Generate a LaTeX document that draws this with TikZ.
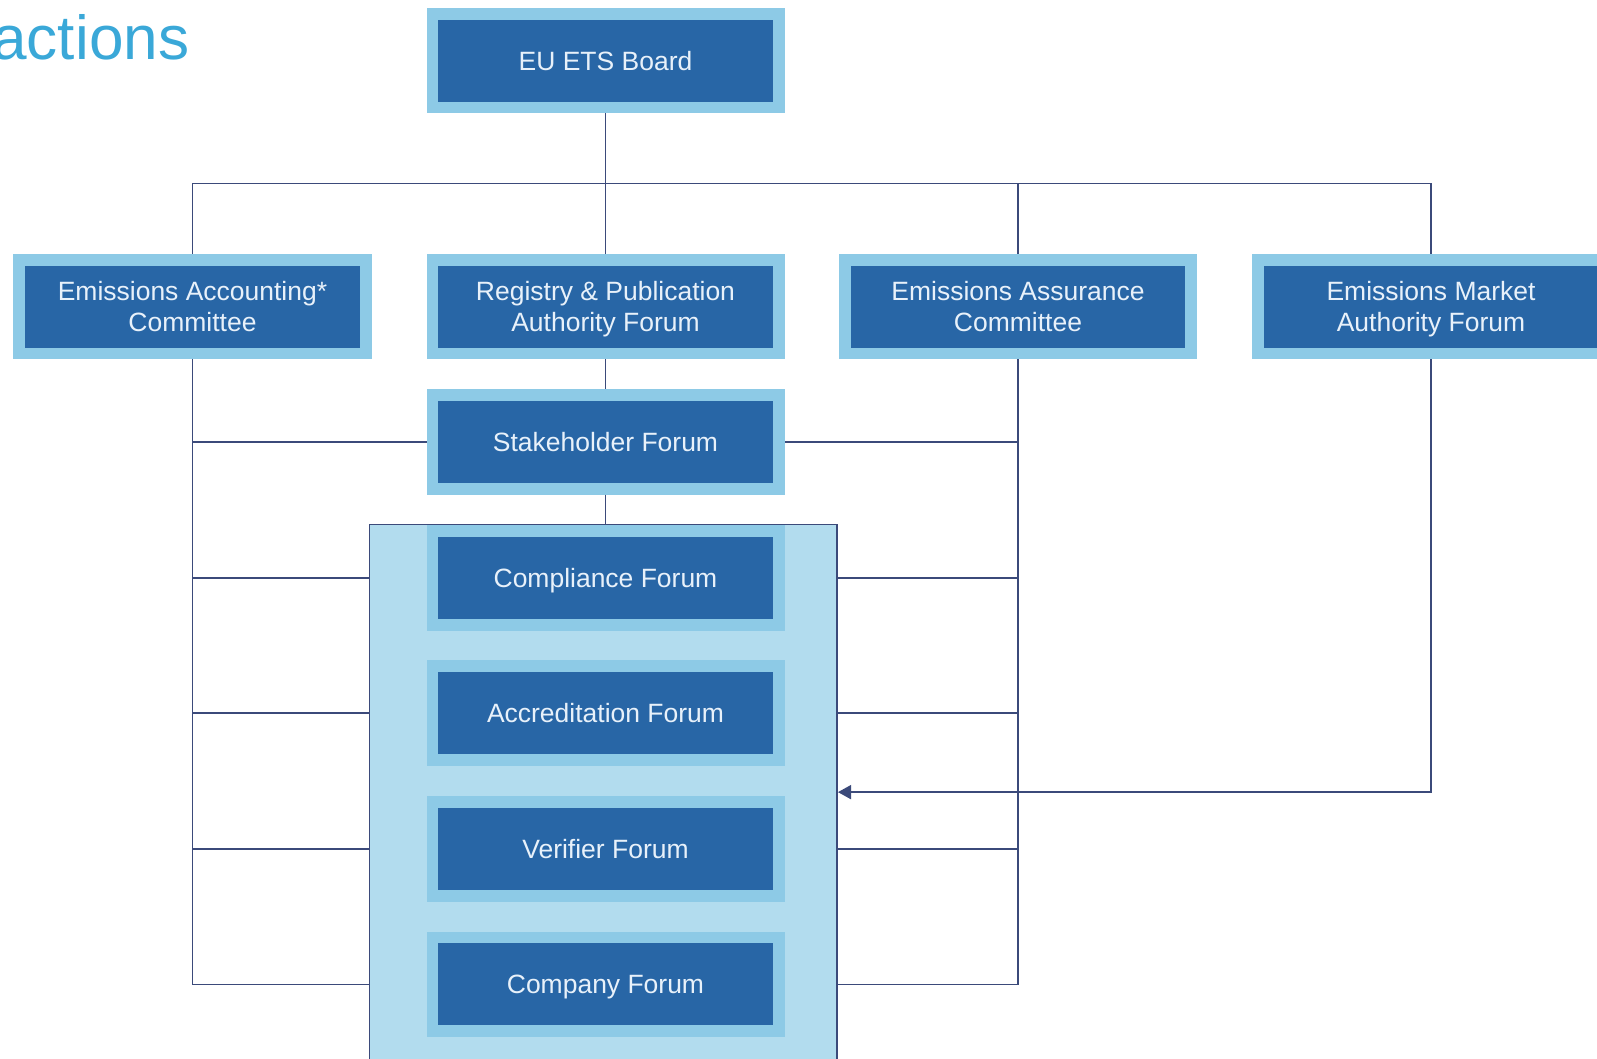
\documentclass[tikz,border=0pt]{standalone}
\usepackage{fontspec}
\setmainfont{Liberation Sans}
\usetikzlibrary{arrows.meta}
\definecolor{ringblue}{HTML}{8DCAE6}
\definecolor{boxblue}{HTML}{2866A6}
\definecolor{panelblue}{HTML}{B2DCEE}
\definecolor{linenavy}{HTML}{3B4A7A}
\definecolor{titleblue}{HTML}{3AA8D8}
\definecolor{boxtext}{HTML}{E8F1FA}
\begin{document}
\begin{tikzpicture}[x=1pt,y=-1pt,
  orgbox/.style={rectangle, fill=boxblue, draw=ringblue, line width=11.5pt,
    minimum width=340pt, minimum height=92pt, inner sep=0pt, text=boxtext,
    align=center, text depth=0pt, font=\fontsize{26}{31}\selectfont},
  panelbox/.style={rectangle, fill=panelblue, draw=linenavy, line width=1.5pt,
    minimum width=459pt, minimum height=560pt, inner sep=0pt},
  link/.style={draw=linenavy, line width=1.5pt},
]
\useasboundingbox (0,0) rectangle (1568,1039);
\clip (0,0) rectangle (1568,1039);

\node[anchor=base east, text=titleblue, font=\fontsize{61}{61}\selectfont, inner sep=0pt] (title) at (186,58) {actions};

\node[panelbox, anchor=north] (panel) at (592.5,514) {};

\node[orgbox] (board) at (594.5,59.5) {EU ETS Board};
\node[orgbox] (acc)   at (189,301)   {Emissions Accounting*\\Committee};
\node[orgbox] (reg)   at (594.5,301) {Registry \& Publication\\Authority Forum};
\node[orgbox] (assur) at (999.5,301) {Emissions Assurance\\Committee};
\node[orgbox] (mkt)   at (1405,301)  {Emissions Market\\Authority Forum};
\node[orgbox] (stake) at (594.5,434) {Stakeholder Forum};
\node[orgbox] (comp)  at (594.5,567.5) {Compliance Forum};
\node[orgbox] (accr)  at (594.5,700) {Accreditation Forum};
\node[orgbox] (veri)  at (594.5,833.5) {Verifier Forum};
\node[orgbox] (compy) at (594.5,966.5) {Company Forum};

% top tree
\draw[link] (board.south) -- (reg.north);
\draw[link] (acc.north) -- ++(0,-69) -| (mkt.north);
\draw[link] (assur.north) -- ++(0,-69);
\draw[link] (reg.south) -- (stake.north);
\draw[link] (stake.south) -- (stake.south |- panel.north);

% left spine
\draw[link] (acc.south) |- (compy -| panel.west);
\draw[link] (acc.south |- stake) -- (stake.west);
\draw[link] (acc.south |- comp) -- (comp -| panel.west);
\draw[link] (acc.south |- accr) -- (accr -| panel.west);
\draw[link] (acc.south |- veri) -- (veri -| panel.west);

% right spine
\draw[link] (assur.south) |- (compy -| panel.east);
\draw[link] (assur.south |- stake) -- (stake.east);
\draw[link] (assur.south |- comp) -- (comp -| panel.east);
\draw[link] (assur.south |- accr) -- (accr -| panel.east);
\draw[link] (assur.south |- veri) -- (veri -| panel.east);

% market arrow
\draw[link, -{Triangle[length=13pt,width=14pt]}] (mkt.south) |- ([yshift=17pt]panel.east);
\end{tikzpicture}
\end{document}
